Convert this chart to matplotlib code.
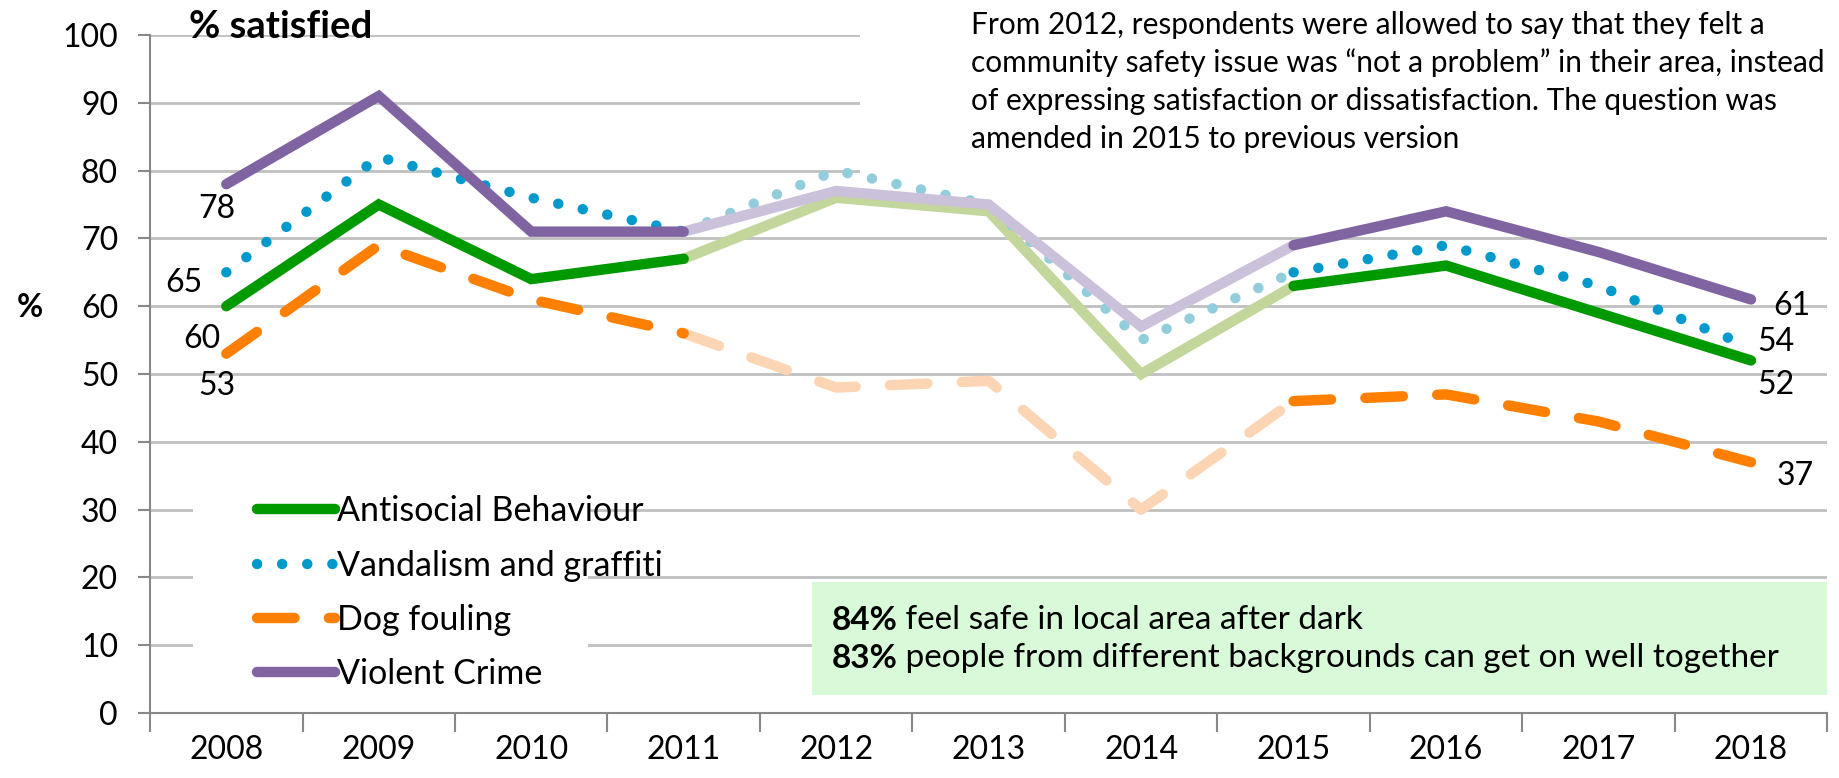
import matplotlib
matplotlib.use("Agg")
import matplotlib.pyplot as plt
from matplotlib.patches import Rectangle

plt.rcParams["font.family"] = ["Lato", "DejaVu Sans"]

# ───────────────────────────── data ─────────────────────────────
YEARS = ["2008", "2009", "2010", "2011", "2012", "2013",
         "2014", "2015", "2016", "2017", "2018"]
ANTISOCIAL = [60, 75, 64, 67, 76, 74, 50, 63, 66, 59, 52]
VANDALISM = [65, 82, 76, 71, 80, 75, 55, 65, 69, 63, 54]
DOG_FOULING = [53, 69, 61, 56, 48, 49, 30, 46, 47, 43, 37]
VIOLENT = [78, 91, 71, 71, 77, 75, 57, 69, 74, 68, 61]

LABELS = ["Antisocial Behaviour", "Vandalism and graffiti",
          "Dog fouling", "Violent Crime"]
# years 2011-2015 used the amended question -> drawn faded
FADE_START, FADE_END = 3, 7

NOTE = ("From 2012, respondents were allowed to say that they felt a\n"
        "community safety issue was \u201cnot a problem\u201d in their area, instead\n"
        "of expressing satisfaction or dissatisfaction. The question was\n"
        "amended in 2015 to previous version")
FACTS = [("84%", "feel safe in local area after dark"),
         ("83%", "people from different backgrounds can get on well together")]

# ──────────────────────────── styles ────────────────────────────
LW = 7.5
FS = 23
STYLES = [
    dict(color="#009900", faded="#C3D69B", ls="-"),
    dict(color="#0099CC", faded="#92CDDC", ls=(0, (0.01, 2.4))),
    dict(color="#FF8000", faded="#FCD5B5", ls=(0, (3.6, 3.3))),
    dict(color="#8064A2", faded="#CCC1DA", ls="-"),
]

fig = plt.figure(figsize=(18.39, 7.78), dpi=100)
ax = fig.add_axes([0.0816, 0.0835, 0.912, 0.8715])

x = list(range(len(YEARS)))
series = [ANTISOCIAL, VANDALISM, DOG_FOULING, VIOLENT]
handles = []
for vals, st, lab in zip(series, STYLES, LABELS):
    kw = dict(lw=LW, ls=st["ls"], solid_capstyle="round",
              dash_capstyle="round", solid_joinstyle="miter")
    ax.plot(x[FADE_START:FADE_END + 1], vals[FADE_START:FADE_END + 1],
            color=st["faded"], zorder=2, **kw)
    h, = ax.plot(x[:FADE_START + 1], vals[:FADE_START + 1],
                 color=st["color"], zorder=3, label=lab, **kw)
    ax.plot(x[FADE_END:], vals[FADE_END:], color=st["color"], zorder=3, **kw)
    handles.append(h)

ax.set_xlim(-0.5, len(YEARS) - 0.5)
ax.set_ylim(0, 100)
ax.set_yticks(range(0, 101, 10))
ax.set_xticks(x)
ax.set_xticklabels(YEARS)
ax.set_xticks([i - 0.5 for i in range(len(YEARS) + 1)], minor=True)
ax.tick_params(axis="x", which="major", length=0, pad=16, labelsize=FS)
ax.tick_params(axis="x", which="minor", length=14, width=1.5, color="#888888")
ax.tick_params(axis="y", length=9, width=1.5, color="#888888", labelsize=FS, pad=14)
ax.grid(axis="y", color="#C0C0C0", lw=2, zorder=0)
ax.set_axisbelow(True)
for side in ("top", "right"):
    ax.spines[side].set_visible(False)
for side in ("left", "bottom"):
    ax.spines[side].set_color("#888888")
    ax.spines[side].set_linewidth(1.5)

# end-point labels (offsets from the first / last point)
first, last = 0, len(YEARS) - 1
lab_kw = dict(fontsize=FS, ha="center", va="center")
ax.text(first - 0.06, VIOLENT[first] - 3.6, str(VIOLENT[first]), **lab_kw)
ax.text(first - 0.28, VANDALISM[first] - 1.6, str(VANDALISM[first]), **lab_kw)
ax.text(first - 0.16, ANTISOCIAL[first] - 4.8, str(ANTISOCIAL[first]), **lab_kw)
ax.text(first - 0.06, DOG_FOULING[first] - 4.7, str(DOG_FOULING[first]), **lab_kw)
ax.text(last + 0.27, VIOLENT[last] - 1.0, str(VIOLENT[last]), **lab_kw)
ax.text(last + 0.16, VANDALISM[last] + 0.7, str(VANDALISM[last]), **lab_kw)
ax.text(last + 0.16, ANTISOCIAL[last] - 3.6, str(ANTISOCIAL[last]), **lab_kw)
ax.text(last + 0.29, DOG_FOULING[last] - 2.0, str(DOG_FOULING[last]), **lab_kw)

# titles
ax.text(0.023, 101.2, "% satisfied", transform=ax.get_yaxis_transform(),
        fontsize=27.5, fontweight="bold", ha="left", va="center", zorder=6)
fig.text(0.016, 0.605, "%", fontsize=FS, fontweight="bold", ha="center", va="center")

# question-change note on white panel
ax.add_patch(Rectangle((0.423, 0.76), 0.6, 0.3, transform=ax.transAxes,
                       facecolor="white", edgecolor="none", zorder=1, clip_on=False))
ax.text(0.4896, 1.036, NOTE, transform=ax.transAxes, fontsize=21.5, ha="left",
        va="top", linespacing=1.42, zorder=4)

# legend on white panel
ax.add_patch(Rectangle((-0.22, 0.5), 2.59, 37, facecolor="white",
                       edgecolor="none", zorder=1))
leg = ax.legend(handles=handles, loc="upper left", bbox_to_anchor=(0.0638, 0.321),
                fontsize=FS + 1.5, frameon=False, handlelength=2.3,
                handletextpad=0.05, labelspacing=0.65, borderpad=0,
                borderaxespad=0)
leg.set_zorder(5)

# green highlight box
ax.add_patch(Rectangle((3.84, 2.7), 6.66, 16.6, facecolor="#D9FAD9",
                       edgecolor="none", zorder=4))
for (num, txt), yy in zip(FACTS, (13.7, 8.1)):
    t = ax.text(3.97, yy, num, fontsize=FS + 1, fontweight="bold", ha="left",
                va="center", zorder=5)
    ax.annotate(" " + txt, xy=(1, 0), xycoords=t, ha="left", va="bottom",
                fontsize=FS + 1, zorder=5)

fig.savefig("out.png", dpi=100)
